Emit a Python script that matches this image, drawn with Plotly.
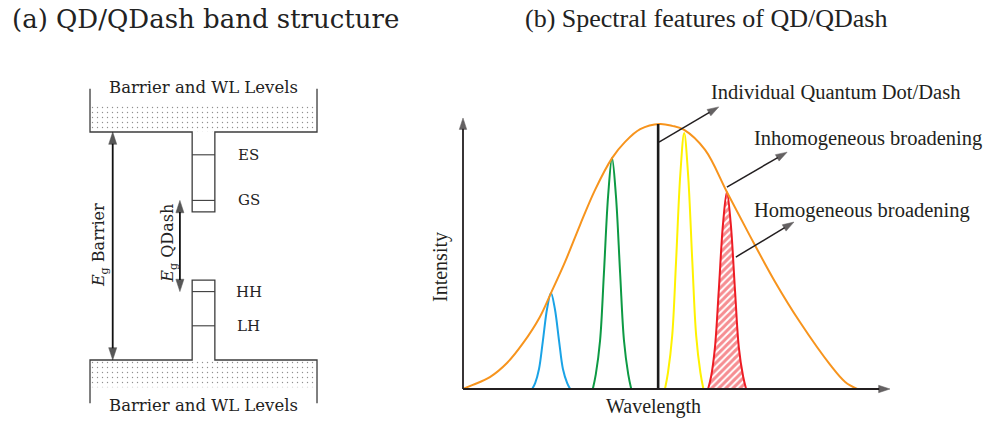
import plotly.graph_objects as go

# ---------------- (a) QD/QDash band structure (energy, arb. units) ----------------
barrier_x = [0.0, 10.0]        # lateral extent of barrier / WL region
well_x = [4.5, 5.5]            # lateral extent of the QDash well
cb_barrier = 10.0              # conduction-band barrier edge
vb_barrier = 0.0               # valence-band barrier edge
cb_well_floor = 6.5            # bottom of conduction well
vb_well_ceiling = 3.5          # top of valence well
cb_levels = {"ES": 9.0, "GS": 7.0}
vb_levels = {"HH": 3.0, "LH": 1.5}
cb_continuum_top = 11.15       # extent of dotted WL continuum
vb_continuum_bottom = -1.2
box_top = 11.9
box_bottom = -1.9
level_label_x = 7.0
eg_barrier_x = 1.0
eg_qdash_x = 3.96
barrier_label = "Barrier and WL Levels"

# ---------------- (b) Spectral features (wavelength / intensity, arb. units) -------
wavelength_env = [0, 2.3, 6.3, 10.3, 14.1, 18.0, 20.6, 23.9, 27.4, 30.9, 34.9, 37.9,
                  41.5, 46.1, 49.0, 51.8, 56.7, 61.8, 67.2, 73.1, 78.9, 86.0, 89.5, 92.3]
intensity_env = [0, 1.5, 4.4, 9.6, 17.0, 26.6, 35.4, 46.9, 60.5, 73.4, 85.2, 91.1,
                 95.9, 97.8, 97.1, 95.6, 88.2, 72.7, 56.5, 39.5, 24.7, 8.9, 2.6, 0]

blue_wl = [16.2, 16.9, 17.8, 18.7, 19.7, 20.6, 21.5, 22.5, 23.4, 24.4, 25.1]
blue_int = [0, 2.2, 7.4, 17.7, 29.7, 35.4, 29.7, 17.7, 7.4, 2.2, 0]
green_wl = [30.4, 31.1, 32.1, 33.0, 34.0, 34.9, 35.8, 36.8, 37.7, 38.7, 39.4]
green_int = [0, 5.4, 17.9, 42.6, 71.6, 85.2, 71.6, 42.6, 17.9, 5.4, 0]
yellow_wl = [47.3, 48.0, 49.0, 49.9, 50.9, 51.8, 52.7, 53.7, 54.6, 55.6, 56.3]
yellow_int = [0, 6.0, 19.8, 47.2, 79.4, 94.5, 79.4, 47.2, 19.8, 6.0, 0]
red_wl = [57.4, 58.1, 59.0, 59.9, 60.9, 61.8, 62.7, 63.7, 64.6, 65.6, 66.3]
red_int = [0, 4.6, 15.3, 36.4, 61.1, 72.7, 61.1, 36.4, 15.3, 4.6, 0]

single_dot_wl = 45.7
single_dot_int = 97.8
axis_max = 100

callouts = [
    # text, tail (wl, int), head (wl, int), text position (wl, int)
    ("Individual Quantum Dot/Dash", (45.9, 91.1), (59.9, 104.1), (57.6, 109.6)),
    ("Inhomogeneous broadening", (61.8, 74.5), (75.9, 87.4), (67.7, 92.6)),
    ("Homogeneous broadening", (63.9, 48.7), (77.5, 61.6), (67.7, 66.0)),
]

# ---------------- figure ----------------
LEFT_FONT = "DejaVu Serif"
RIGHT_FONT = "Liberation Serif"
LINE = "#3c3c3c"
INK = "#231f20"

fig = go.Figure()


def add_arrow(tail, head, xa, ya, width, size, color):
    fig.add_trace(go.Scatter(
        x=[tail[0], head[0]], y=[tail[1], head[1]], mode="lines+markers",
        line=dict(color=color, width=width),
        marker=dict(symbol=["circle", "arrow"], size=[0, size], angleref="previous",
                    color=color, line=dict(width=0.5, color=color)),
        hoverinfo="skip", xaxis=xa, yaxis=ya))


# dotted continua
for y0, y1 in [(cb_barrier, cb_continuum_top), (vb_continuum_bottom, vb_barrier)]:
    fig.add_trace(go.Scatter(
        x=[barrier_x[0], barrier_x[1], barrier_x[1], barrier_x[0], barrier_x[0]],
        y=[y0, y0, y1, y1, y0], mode="lines", fill="toself",
        line=dict(width=0, color="rgba(0,0,0,0)"), fillcolor="white",
        fillpattern=dict(shape=".", fgcolor="#222222", bgcolor="white", size=5, solidity=0.06),
        hoverinfo="skip", xaxis="x", yaxis="y"))

# band outlines
top_x = [barrier_x[0], barrier_x[0], well_x[0], well_x[0], well_x[1], well_x[1], barrier_x[1], barrier_x[1]]
top_y = [box_top, cb_barrier, cb_barrier, cb_well_floor, cb_well_floor, cb_barrier, cb_barrier, box_top]
bot_y = [box_bottom, vb_barrier, vb_barrier, vb_well_ceiling, vb_well_ceiling, vb_barrier, vb_barrier, box_bottom]
for yy in (top_y, bot_y):
    fig.add_trace(go.Scatter(x=top_x, y=yy, mode="lines", line=dict(color=LINE, width=1.3),
                             hoverinfo="skip", xaxis="x", yaxis="y"))

annotations = []
for name, e in list(cb_levels.items()) + list(vb_levels.items()):
    fig.add_trace(go.Scatter(x=well_x, y=[e, e], mode="lines", line=dict(color=LINE, width=1.1),
                             hoverinfo="skip", xaxis="x", yaxis="y"))
    annotations.append(dict(x=level_label_x, y=e, xref="x", yref="y", text=name, showarrow=False,
                            font=dict(family=LEFT_FONT, size=15, color="#222")))

annotations.append(dict(x=sum(barrier_x) / 2, y=box_top + 0.05, xref="x", yref="y", text=barrier_label,
                        showarrow=False, bgcolor="white",
                        font=dict(family=LEFT_FONT, size=16.5, color="#222")))
annotations.append(dict(x=sum(barrier_x) / 2, y=box_bottom - 0.1, xref="x", yref="y", text=barrier_label,
                        showarrow=False, bgcolor="white",
                        font=dict(family=LEFT_FONT, size=16.5, color="#222")))

# Eg double-headed arrows (drawn as two half-arrows from the middle)
for xa, top, bottom in [(eg_barrier_x, cb_barrier, vb_barrier),
                        (eg_qdash_x, cb_levels["GS"], vb_levels["HH"])]:
    mid = (top + bottom) / 2
    add_arrow((xa, mid), (xa, top), "x", "y", 1.8, 13, "#111")
    add_arrow((xa, mid), (xa, bottom), "x", "y", 1.8, 13, "#111")

annotations.append(dict(x=eg_barrier_x - 0.55, y=5.05, xref="x", yref="y",
                        text="<i>E</i><sub>g</sub> Barrier", textangle=-90, showarrow=False,
                        font=dict(family=LEFT_FONT, size=16, color="#222")))
annotations.append(dict(x=eg_qdash_x - 0.48, y=5.1, xref="x", yref="y",
                        text="<i>E</i><sub>g</sub> QDash", textangle=-90, showarrow=False,
                        font=dict(family=LEFT_FONT, size=16, color="#222")))

# ---------------- right panel traces ----------------
for wl, it, col in [(blue_wl, blue_int, "#1aa3e6"), (green_wl, green_int, "#0d9a44"),
                    (yellow_wl, yellow_int, "#fff200")]:
    fig.add_trace(go.Scatter(x=wl, y=it, mode="lines",
                             line=dict(color=col, width=2, shape="spline", smoothing=1.0),
                             hoverinfo="skip", xaxis="x2", yaxis="y2"))
fig.add_trace(go.Scatter(x=red_wl, y=red_int, mode="lines", fill="toself", fillcolor="white",
                         fillpattern=dict(shape="/", fgcolor="#ed1c24", bgcolor="white", size=5, solidity=0.6),
                         line=dict(color="#ed1c24", width=2, shape="spline", smoothing=1.0),
                         hoverinfo="skip", xaxis="x2", yaxis="y2"))
fig.add_trace(go.Scatter(x=wavelength_env, y=intensity_env, mode="lines",
                         line=dict(color="#f7941d", width=2, shape="spline", smoothing=1.0),
                         hoverinfo="skip", xaxis="x2", yaxis="y2"))
fig.add_trace(go.Scatter(x=[single_dot_wl, single_dot_wl], y=[0, single_dot_int], mode="lines",
                         line=dict(color="#1a1a1a", width=2.6), hoverinfo="skip", xaxis="x2", yaxis="y2"))

# axes with arrows
for hx, hy in [(axis_max, 0), (0, axis_max)]:
    add_arrow((0, 0), (hx, hy), "x2", "y2", 1.8, 12, INK)

for txt, tail, head, pos in callouts:
    add_arrow(tail, head, "x2", "y2", 1.5, 12, INK)
    annotations.append(dict(x=pos[0], y=pos[1], xref="x2", yref="y2", text=txt, showarrow=False,
                            xanchor="left", yanchor="middle",
                            font=dict(family=RIGHT_FONT, size=20.5, color=INK)))

annotations.append(dict(x=-5.4, y=45, xref="x2", yref="y2", text="Intensity", textangle=-90,
                        showarrow=False, font=dict(family=RIGHT_FONT, size=20, color=INK)))
annotations.append(dict(x=44.5, y=-6.6, xref="x2", yref="y2", text="Wavelength",
                        showarrow=False, yanchor="middle",
                        font=dict(family=RIGHT_FONT, size=20, color=INK)))

# titles
annotations.append(dict(x=10 / 986, y=1 - 19 / 422, xref="paper", yref="paper",
                        text="(a) QD/QDash band structure", showarrow=False,
                        xanchor="left", yanchor="middle",
                        font=dict(family=LEFT_FONT, size=26, color="#222")))
annotations.append(dict(x=523 / 986, y=1 - 19 / 422, xref="paper", yref="paper",
                        text="(b) Spectral features of QD/QDash", showarrow=False,
                        xanchor="left", yanchor="middle",
                        font=dict(family=RIGHT_FONT, size=26, color="#222")))

ax_common = dict(visible=False, fixedrange=True, showgrid=False, zeroline=False)
fig.update_layout(
    width=986, height=422, margin=dict(l=0, r=0, t=0, b=0),
    paper_bgcolor="white", plot_bgcolor="white", showlegend=False,
    xaxis=dict(domain=[0, 0.42], range=[-3.965, 14.278], anchor="y", **ax_common),
    yaxis=dict(domain=[0, 1], range=[-2.719, 15.789], anchor="x", **ax_common),
    xaxis2=dict(domain=[0.42, 1], range=[-11.447, 122.48], anchor="y2", **ax_common),
    yaxis2=dict(domain=[0, 1], range=[-12.18, 143.54], anchor="x2", **ax_common),
    annotations=annotations,
)

fig.write_html("out.html", config={"displayModeBar": False},
               post_script="document.body.style.margin='0';document.body.style.overflow='hidden';")
